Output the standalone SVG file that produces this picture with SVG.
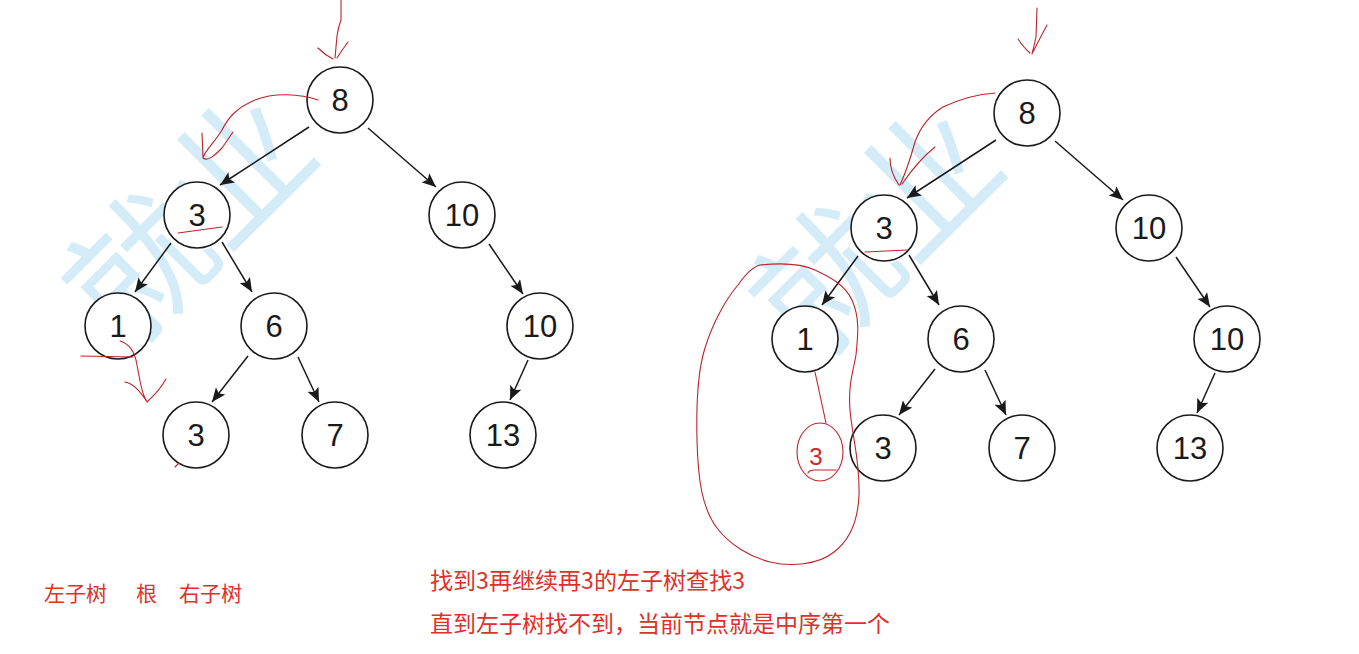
<svg xmlns="http://www.w3.org/2000/svg" width="1359" height="654" viewBox="0 0 1359 654">
<style>
.node circle{fill:#fff;stroke:#1a1a1a;stroke-width:1.6}
.node text{font-family:"Liberation Sans",Arial,sans-serif;font-size:31px;fill:#1a1a1a;text-anchor:middle}
.edge{stroke:#1a1a1a;stroke-width:1.5;fill:none;marker-end:url(#arr)}
.ink{stroke:#c0222a;stroke-width:1.1;fill:none;stroke-linecap:round;stroke-linejoin:round}
.note{font-family:"Noto Sans CJK SC","Noto Sans",sans-serif;fill:#e0302a}
.wm{font-family:"Noto Sans CJK SC",sans-serif;font-size:140px;fill:#d3ecf8;text-anchor:middle}
</style>
<defs>
<marker id="arr" viewBox="0 0 14 12" refX="14" refY="6" markerWidth="14" markerHeight="12" markerUnits="userSpaceOnUse" orient="auto">
<path d="M0,0 L14,6 L0,12 L3,6 Z" fill="#1a1a1a"/>
</marker>
</defs>
<rect width="1359" height="654" fill="#fff"/>

<g id="watermark-left">
<g transform="translate(190,220) rotate(-45)"><text class="wm" x="0" y="50">就业</text></g>
</g>
<g id="watermark-right">
<g transform="translate(877,233) rotate(-45)"><text class="wm" x="0" y="50">就业</text></g>
</g>

<g id="connectors">
<line class="edge" x1="309" y1="127" x2="220" y2="185"/>
<line class="edge" x1="368" y1="128" x2="436" y2="187"/>
<line class="edge" x1="171" y1="243" x2="135" y2="292"/>
<line class="edge" x1="222" y1="242" x2="252" y2="292"/>
<line class="edge" x1="248" y1="356" x2="212" y2="402"/>
<line class="edge" x1="298" y1="357" x2="319" y2="402"/>
<line class="edge" x1="489" y1="244" x2="523" y2="294"/>
<line class="edge" x1="528" y1="360" x2="510" y2="400"/>

<line class="edge" x1="996" y1="140" x2="907" y2="198"/>
<line class="edge" x1="1055" y1="141" x2="1123" y2="200"/>
<line class="edge" x1="858" y1="256" x2="822" y2="305"/>
<line class="edge" x1="909" y1="255" x2="939" y2="305"/>
<line class="edge" x1="935" y1="369" x2="899" y2="415"/>
<line class="edge" x1="985" y1="370" x2="1006" y2="415"/>
<line class="edge" x1="1176" y1="257" x2="1210" y2="307"/>
<line class="edge" x1="1215" y1="373" x2="1197" y2="413"/>
</g>

<g id="L8" class="node"><circle cx="340" cy="100" r="33"/><text x="340" y="111">8</text></g>
<g id="L3" class="node"><circle cx="197" cy="215" r="33"/><text x="197" y="226">3</text></g>
<g id="L10a" class="node"><circle cx="462" cy="215" r="33"/><text x="462" y="226">10</text></g>
<g id="L1" class="node"><circle cx="118" cy="326" r="33"/><text x="118" y="337">1</text></g>
<g id="L6" class="node"><circle cx="274" cy="326" r="33"/><text x="274" y="337">6</text></g>
<g id="L10b" class="node"><circle cx="540" cy="326" r="33"/><text x="540" y="337">10</text></g>
<g id="L3b" class="node"><circle cx="196" cy="435" r="33"/><text x="196" y="446">3</text></g>
<g id="L7" class="node"><circle cx="335" cy="435" r="33"/><text x="335" y="446">7</text></g>
<g id="L13" class="node"><circle cx="503" cy="435" r="33"/><text x="503" y="446">13</text></g>

<g id="R8" class="node"><circle cx="1027" cy="113" r="33"/><text x="1027" y="124">8</text></g>
<g id="R3" class="node"><circle cx="884" cy="228" r="33"/><text x="884" y="239">3</text></g>
<g id="R10a" class="node"><circle cx="1149" cy="228" r="33"/><text x="1149" y="239">10</text></g>
<g id="R1" class="node"><circle cx="805" cy="339" r="33"/><text x="805" y="350">1</text></g>
<g id="R6" class="node"><circle cx="961" cy="339" r="33"/><text x="961" y="350">6</text></g>
<g id="R10b" class="node"><circle cx="1227" cy="339" r="33"/><text x="1227" y="350">10</text></g>
<g id="R3b" class="node"><circle cx="883" cy="448" r="33"/><text x="883" y="459">3</text></g>
<g id="R7" class="node"><circle cx="1022" cy="448" r="33"/><text x="1022" y="459">7</text></g>
<g id="R13" class="node"><circle cx="1190" cy="448" r="33"/><text x="1190" y="459">13</text></g>

<g id="annotations-left">
<path class="ink" d="M341,0 L341,20 Q338,28 337,36 L335,58 M318,48 Q325,55 333,59 M348,42 Q342,50 337,58"/>
<path class="ink" d="M318,100 C300,94 275,92 255,100 C236,108 228,118 222,130 C215,142 205,150 203,158 C208,162 215,155 222,148 L233,132 M202,133 L203,157"/>
<path class="ink" d="M178,233 Q200,230 222,227"/>
<path class="ink" d="M81,356 L133,357"/>
<path class="ink" d="M120,341 C130,344 135,352 137,365 C140,380 141,393 147,402 M125,382 Q136,384 147,402 M166,379 Q160,390 147,402"/>
<path class="ink" d="M175,467 L179,463"/>
</g>

<g id="annotations-right">
<path class="ink" d="M1037,8 L1036,37 Q1034,46 1032,54 M1018,39 Q1024,48 1030,53 M1047,25 Q1040,38 1033,52"/>
<path class="ink" d="M995,93 C980,94 960,99 943,107 C930,115 920,128 915,142 C910,160 906,172 900,185 M890,158 C890,168 894,178 899,185 M935,147 C925,155 915,165 902,184"/>
<path class="ink" d="M865,252 L907,250"/>
<path class="ink" d="M760,265 C780,263 800,263 815,270 C830,277 845,285 852,300 C860,318 858,335 856,355 C853,372 848,385 850,410 C852,435 860,460 859,495 C858,520 850,540 834,552 C818,565 790,567 770,562 C750,557 730,545 717,528 C702,508 698,480 697,440 C696,400 698,370 705,348 C712,325 725,300 738,285 C745,275 752,267 760,265 Z"/>
<path class="ink" d="M815,372 L826,423"/>
<ellipse class="ink" cx="820" cy="452" rx="23" ry="29"/>
<text x="816" y="465" font-family="Liberation Sans,Arial,sans-serif" font-size="24" fill="#d02525" text-anchor="middle">3</text>
<path class="ink" d="M808,473 Q809,470 815,470 L836,470"/>
</g>

<g id="notes">
<text class="note" x="44" y="601" font-size="21">左子树</text>
<text class="note" x="136" y="601" font-size="21">根</text>
<text class="note" x="179" y="601" font-size="21">右子树</text>
<text class="note" x="430" y="589" font-size="23" textLength="315" lengthAdjust="spacingAndGlyphs">找到3再继续再3的左子树查找3</text>
<text class="note" x="430" y="632" font-size="23" textLength="460" lengthAdjust="spacingAndGlyphs">直到左子树找不到，当前节点就是中序第一个</text>
</g>
</svg>
